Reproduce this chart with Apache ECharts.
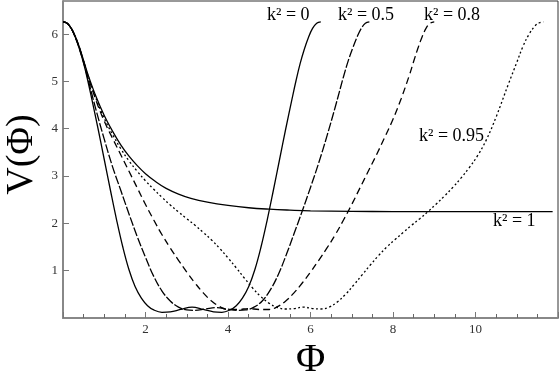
<!DOCTYPE html>
<html>
<head>
<meta charset="utf-8">
<script src="https://cdn.jsdelivr.net/npm/echarts@6/dist/echarts.min.js"></script>
<style>
  html, body { margin: 0; padding: 0; background: #fff; }
  #main { width: 560px; height: 377px; }
</style>
</head>
<body>
<div id="main"></div>
<script>
var myChart = echarts.init(document.getElementById('main'));

// 曲线数据 [Φ, V(Φ)]
var curveK0 = [[0,6.26],[0.1,6.23],[0.2,6.12],[0.3,5.93],[0.4,5.68],[0.5,5.38],[0.6,5.02],[0.7,4.62],[0.85,4.0],[1.0,3.35],[1.15,2.7],[1.3,2.07],[1.45,1.5],[1.6,1.02],[1.75,0.66],[1.9,0.42],[2.05,0.26],[2.2,0.17],[2.4,0.12],[2.6,0.13],[2.85,0.18],[3.13,0.23],[3.4,0.18],[3.65,0.13],[3.85,0.12],[4.05,0.17],[4.2,0.26],[4.35,0.42],[4.5,0.66],[4.65,1.02],[4.8,1.5],[4.95,2.07],[5.1,2.7],[5.25,3.35],[5.4,4.0],[5.55,4.62],[5.65,5.02],[5.75,5.38],[5.85,5.68],[5.95,5.93],[6.05,6.12],[6.15,6.23],[6.25,6.26]];

var curveK05 = [[0,6.26],[0.1,6.23],[0.2,6.12],[0.3,5.93],[0.4,5.69],[0.5,5.4],[0.6,5.07],[0.8,4.4],[1.0,3.78],[1.2,3.2],[1.4,2.7],[1.6,2.2],[1.8,1.72],[2.0,1.28],[2.2,0.88],[2.4,0.57],[2.6,0.36],[2.8,0.23],[3.0,0.17],[3.2,0.16],[3.45,0.19],[3.72,0.22],[3.98,0.19],[4.23,0.16],[4.43,0.17],[4.63,0.23],[4.83,0.36],[5.03,0.6],[5.22,0.92],[5.41,1.33],[5.6,1.78],[5.8,2.26],[6.0,2.76],[6.2,3.28],[6.4,3.85],[6.6,4.46],[6.8,5.1],[6.92,5.45],[7.03,5.72],[7.13,5.94],[7.23,6.12],[7.33,6.23],[7.43,6.26]];

var curveK08 = [[0,6.26],[0.1,6.23],[0.2,6.12],[0.3,5.94],[0.4,5.7],[0.5,5.42],[0.6,5.12],[0.8,4.6],[1.0,4.16],[1.2,3.8],[1.4,3.45],[1.6,3.1],[1.8,2.75],[2.0,2.4],[2.2,2.07],[2.4,1.76],[2.6,1.48],[2.8,1.22],[3.0,0.97],[3.2,0.74],[3.4,0.53],[3.6,0.36],[3.8,0.24],[4.0,0.18],[4.25,0.18],[4.5,0.2],[4.75,0.18],[5.0,0.18],[5.2,0.24],[5.4,0.36],[5.6,0.53],[5.8,0.74],[6.0,0.97],[6.2,1.22],[6.4,1.48],[6.6,1.76],[6.8,2.07],[7.0,2.4],[7.2,2.75],[7.4,3.1],[7.6,3.45],[7.8,3.82],[8.0,4.2],[8.2,4.64],[8.4,5.14],[8.5,5.42],[8.6,5.69],[8.7,5.93],[8.8,6.12],[8.9,6.23],[9.0,6.26]];

var curveK095 = [[0,6.26],[0.1,6.23],[0.2,6.12],[0.3,5.94],[0.4,5.71],[0.5,5.43],[0.6,5.14],[0.8,4.64],[1.0,4.22],[1.2,3.88],[1.4,3.58],[1.6,3.32],[1.8,3.1],[2.0,2.9],[2.2,2.72],[2.4,2.55],[2.6,2.39],[2.8,2.24],[3.0,2.1],[3.2,1.96],[3.4,1.81],[3.6,1.65],[3.8,1.47],[4.0,1.27],[4.2,1.06],[4.4,0.84],[4.6,0.63],[4.8,0.45],[5.0,0.31],[5.2,0.22],[5.4,0.19],[5.6,0.2],[5.83,0.23],[6.05,0.2],[6.25,0.19],[6.45,0.23],[6.65,0.34],[6.85,0.5],[7.05,0.7],[7.25,0.91],[7.45,1.12],[7.65,1.32],[7.85,1.5],[8.05,1.66],[8.25,1.81],[8.45,1.96],[8.65,2.1],[8.85,2.25],[9.05,2.41],[9.25,2.58],[9.45,2.76],[9.65,2.96],[9.85,3.18],[10.05,3.43],[10.26,3.76],[10.5,4.25],[10.8,4.95],[11.0,5.4],[11.15,5.74],[11.3,6.0],[11.45,6.18],[11.55,6.24],[11.65,6.26]];

var curveK1 = [[0,6.26],[0.1,6.23],[0.2,6.12],[0.3,5.95],[0.4,5.72],[0.5,5.44],[0.6,5.16],[0.8,4.68],[1.0,4.28],[1.2,3.95],[1.4,3.66],[1.6,3.42],[1.8,3.22],[2.0,3.05],[2.25,2.88],[2.5,2.74],[2.8,2.62],[3.1,2.53],[3.5,2.45],[4.0,2.38],[4.5,2.33],[5.0,2.3],[5.5,2.28],[6.0,2.265],[7.0,2.255],[8.0,2.25],[11.87,2.25]];

// 刻度
var xTicks = [2, 4, 6, 8, 10];
var yTicks = [1, 2, 3, 4, 5, 6];

var serif = 'Liberation Serif';

function curve(data, dash) {
  return {
    type: 'line',
    data: data,
    smooth: 0.4,
    symbol: 'none',
    silent: true,
    animation: false,
    lineStyle: { color: '#000', width: 1.3, type: dash }
  };
}

var option = {
  backgroundColor: '#fff',
  grid: {
    left: 63, right: 2, top: 1, bottom: 59,
    show: true, borderColor: '#333', borderWidth: 1,
    outerBoundsMode: 'none'
  },
  xAxis: {
    type: 'value',
    min: 0, max: 12, interval: 2,
    axisLine: { lineStyle: { color: '#888', width: 2 } },
    axisTick: { inside: true, length: 6, lineStyle: { color: '#777' } },
    minorTick: { show: true, splitNumber: 4, length: 4, lineStyle: { color: '#666' } },
    splitLine: { show: false },
    axisLabel: {
      margin: 5, color: '#333', fontFamily: serif, fontSize: 13,
      customValues: xTicks
    },
    name: 'Φ', nameLocation: 'middle', nameGap: 11,
    nameTextStyle: { fontFamily: serif, fontSize: 40, color: '#000' }
  },
  yAxis: {
    type: 'value',
    min: 0, max: 6.7,
    axisLine: { show: true, lineStyle: { color: '#888', width: 2 } },
    axisTick: { show: true, inside: true, length: 6, lineStyle: { color: '#777' }, customValues: yTicks },
    splitLine: { show: false },
    axisLabel: {
      margin: 5, color: '#333', fontFamily: serif, fontSize: 13,
      customValues: yTicks
    },
    name: 'V(Φ)', nameLocation: 'middle', nameRotate: 90, nameGap: 20,
    nameTextStyle: { fontFamily: serif, fontSize: 38, color: '#000', padding: [0, 0, 0, 10] }
  },
  graphic: [
    { type: 'text', left: 267, top: 6, style: { text: 'k² = 0', font: '18px "Liberation Serif"', fill: '#000' } },
    { type: 'text', left: 338, top: 6, style: { text: 'k² = 0.5', font: '18px "Liberation Serif"', fill: '#000' } },
    { type: 'text', left: 424, top: 6, style: { text: 'k² = 0.8', font: '18px "Liberation Serif"', fill: '#000' } },
    { type: 'text', left: 419, top: 127, style: { text: 'k² = 0.95', font: '18px "Liberation Serif"', fill: '#000' } },
    { type: 'text', left: 493, top: 212, style: { text: 'k² = 1', font: '18px "Liberation Serif"', fill: '#000' } }
  ],
  series: [
    curve(curveK0, 'solid'),
    curve(curveK05, [9, 2]),
    curve(curveK08, [7, 4]),
    curve(curveK095, [2, 2.5]),
    curve(curveK1, 'solid')
  ]
};

myChart.setOption(option);
</script>
</body>
</html>
